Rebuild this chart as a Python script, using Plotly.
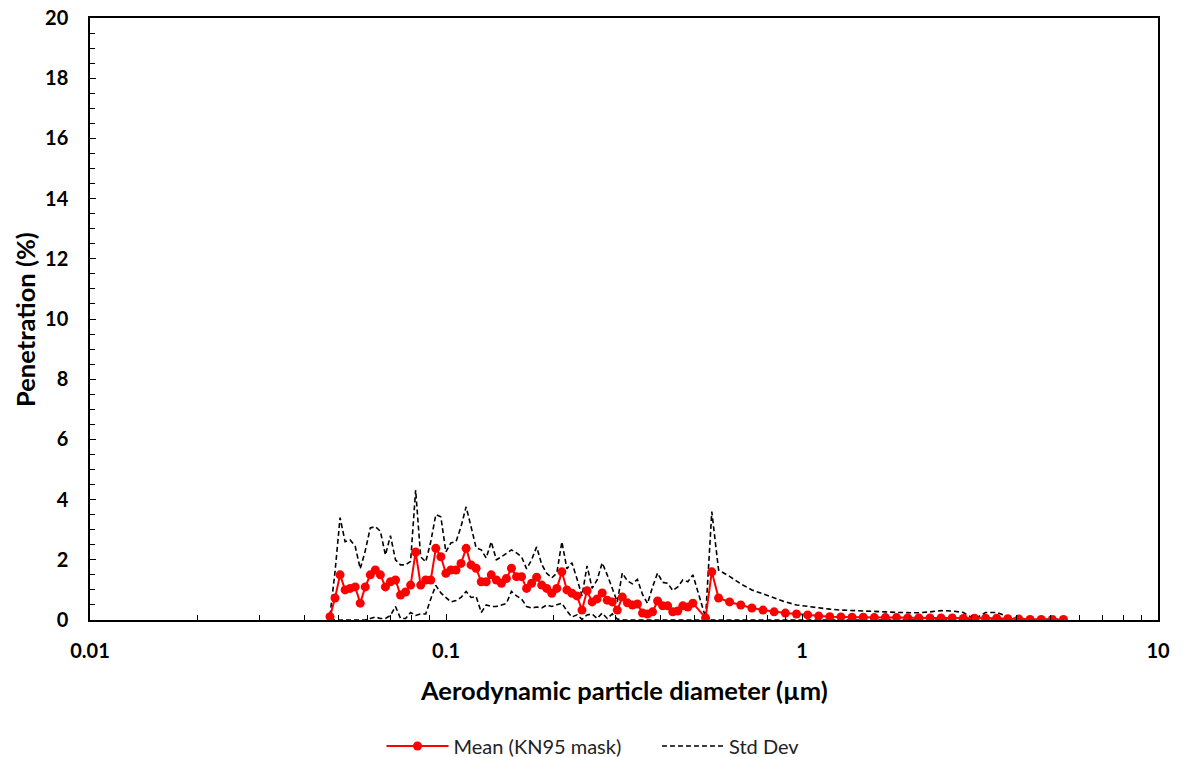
import plotly.graph_objects as go

# Aerodynamic particle diameter (um)
diam = [0.04722, 0.04878, 0.05040, 0.05207, 0.05379, 0.05558, 0.05742, 0.05932, 0.06128, 0.06331,
        0.06541, 0.06758, 0.06982, 0.07213, 0.07452, 0.07699, 0.07954, 0.08217, 0.08489, 0.08771,
        0.09061, 0.09363, 0.09673, 0.09993, 0.1032, 0.1067, 0.1102, 0.1139, 0.1176, 0.1215,
        0.1256, 0.1297, 0.1340, 0.1385, 0.1431, 0.1478, 0.1527, 0.1578, 0.1630, 0.1684,
        0.1740, 0.1797, 0.1857, 0.1918, 0.1982, 0.2048, 0.2116, 0.2186, 0.2258, 0.2333,
        0.2410, 0.2490, 0.2573, 0.2658, 0.2746, 0.2837, 0.2931, 0.3028, 0.3128, 0.3232,
        0.3339, 0.3449, 0.3564, 0.3682, 0.3804, 0.3930, 0.4060, 0.4194, 0.4333, 0.4477,
        0.4625, 0.4778, 0.4937, 0.536,
        0.558, 0.583, 0.626, 0.673, 0.723, 0.777, 0.835, 0.898, 0.965, 1.037,
        1.114, 1.197, 1.286, 1.382, 1.486, 1.596, 1.715, 1.843, 1.981, 2.129,
        2.288, 2.458, 2.642, 2.839, 3.051, 3.278, 3.523, 3.786, 4.068, 4.371,
        4.698, 5.048, 5.425]

# Mean penetration (%)
mean_pen = [0.11, 0.73, 1.5, 1.0, 1.05, 1.1, 0.56, 1.1, 1.5, 1.66,
            1.5, 1.1, 1.27, 1.33, 0.83, 0.93, 1.16, 2.26, 1.16, 1.33,
            1.33, 2.38, 2.1, 1.55, 1.66, 1.66, 1.88, 2.38, 1.83, 1.72,
            1.27, 1.27, 1.5, 1.33, 1.22, 1.38, 1.72, 1.44, 1.44, 1.05,
            1.22, 1.42, 1.16, 1.05, 0.89, 1.05, 1.6, 1.0, 0.89, 0.8,
            0.33, 0.97, 0.6, 0.7, 0.9, 0.66, 0.6, 0.33, 0.76, 0.57,
            0.5, 0.53, 0.23, 0.2, 0.27, 0.63, 0.47, 0.47, 0.27, 0.3,
            0.47, 0.43, 0.56, 0.07,
            1.6, 0.73, 0.6, 0.5, 0.4, 0.33, 0.27, 0.23, 0.2, 0.17,
            0.13, 0.11, 0.1, 0.09, 0.09, 0.08, 0.08, 0.08, 0.07, 0.07,
            0.07, 0.07, 0.07, 0.05, 0.06, 0.06, 0.06, 0.04, 0.03, 0.02,
            0.02, 0.02, 0.02]

# Mean + Std Dev (%)
upper_sd = [0.15, 1.6, 3.4, 2.6, 2.66, 2.45, 1.7, 2.3, 3.06, 3.1,
            2.95, 2.16, 2.8, 2.0, 1.83, 1.83, 1.95, 4.32, 2.1, 1.93,
            2.6, 3.5, 3.43, 2.26, 2.56, 2.6, 3.1, 3.76, 3.1, 2.4,
            2.33, 2.06, 2.6, 2.0, 2.1, 2.23, 2.33, 2.23, 2.1, 1.7,
            2.0, 2.43, 1.85, 1.55, 1.4, 1.56, 2.6, 1.7, 1.9, 1.37,
            0.8, 1.8, 1.05, 1.33, 1.9, 1.5, 1.05, 0.6, 1.56, 1.3,
            1.2, 1.35, 0.85, 0.55, 1.1, 1.56, 1.25, 1.22, 0.98, 1.1,
            1.33, 1.27, 1.5, 0.08,
            3.6, 1.66, 1.45, 1.2, 1.0, 0.87, 0.73, 0.6, 0.5, 0.45,
            0.4, 0.36, 0.33, 0.32, 0.3, 0.3, 0.27, 0.25, 0.24, 0.24,
            0.27, 0.31, 0.3, 0.25, 0.03, 0.25, 0.25, 0.12, 0.02, 0.02,
            0.02, 0.02, 0.02]

# Mean - Std Dev (%), clipped at the axis
lower_sd = [0, 0, 0, 0, 0, 0, 0, 0, 0.05, 0.1,
            0.05, 0.05, 0.15, 0.45, 0.05, 0.05, 0.25, 0.15, 0.2, 0.2,
            0.7, 1.15, 0.9, 0.75, 0.6, 0.65, 0.75, 0.95, 0.75, 0.78,
            0.25, 0.5, 0.45, 0.45, 0.5, 0.55, 0.95, 0.8, 0.7, 0.45,
            0.4, 0.43, 0.4, 0.5, 0.45, 0.5, 0.56, 0.3, 0.1, 0.17,
            0.02, 0.17, 0.2, 0.05, 0.23, 0.05, 0.2, 0.03, 0, 0,
            0, 0, 0, 0, 0, 0, 0, 0, 0, 0,
            0, 0, 0, 0,
            0, 0, 0, 0, 0, 0, 0, 0, 0, 0,
            0, 0, 0, 0, 0, 0, 0, 0, 0, 0,
            0, 0, 0, 0, 0, 0, 0, 0, 0, 0,
            0, 0, 0]

x_tickvals = [0.01, 0.1, 1, 10]
x_ticktext = ["0.01", "0.1", "1", "10"]
x_minor = [0.02, 0.03, 0.04, 0.05, 0.06, 0.07, 0.08, 0.09,
           0.2, 0.3, 0.4, 0.5, 0.6, 0.7, 0.8, 0.9,
           2, 3, 4, 5, 6, 7, 8, 9]

FONT = "Lato"
GAP = "\u00a0" * 6  # extra spacing between legend entries

fig = go.Figure()
sd_line = dict(color="black", width=1.6, dash="5px,3px")
fig.add_trace(go.Scatter(x=diam, y=upper_sd, mode="lines", line=sd_line,
                         name="Std Dev", legendrank=2))
fig.add_trace(go.Scatter(x=diam, y=lower_sd, mode="lines", line=sd_line,
                         name="Std Dev", showlegend=False))
fig.add_trace(go.Scatter(x=diam, y=mean_pen, mode="lines+markers",
                         line=dict(color="#ff0000", width=2),
                         marker=dict(size=9, color="#ff0000"),
                         name="Mean (KN95 mask)" + GAP, legendrank=1))

fig.update_layout(
    width=1186, height=757,
    margin=dict(l=90, r=28, t=18, b=137, autoexpand=False),
    plot_bgcolor="white", paper_bgcolor="white",
    font=dict(family=FONT, color="black"),
    showlegend=True,
    legend=dict(orientation="h", x=0.5, xanchor="center", xref="container",
                y=0.01453, yanchor="middle", yref="container",
                font=dict(family=FONT, size=20, color="#222222"), itemwidth=62,
                traceorder="normal"),
    xaxis=dict(type="log", range=[-2, 1], tickvals=x_tickvals, ticktext=x_ticktext,
               ticks="inside", ticklen=6, tickwidth=1.3, tickcolor="black",
               showline=True, linecolor="black", linewidth=1.5, mirror=True,
               showgrid=False, zeroline=False, ticklabelstandoff=12, automargin=False,
               ticklabeloverflow="allow",
               tickfont=dict(family=FONT, size=20, weight="bold", color="black"),
               minor=dict(tickvals=x_minor, ticks="inside", ticklen=5, tickwidth=1.2,
                          tickcolor="black", showgrid=False)),
    yaxis=dict(range=[0, 20], dtick=2, tick0=0,
               ticks="inside", ticklen=6, tickwidth=1.3, tickcolor="black",
               showline=True, linecolor="black", linewidth=1.5, mirror=True,
               showgrid=False, zeroline=False, ticklabelstandoff=16, automargin=False,
               ticklabeloverflow="allow",
               tickfont=dict(family=FONT, size=20, weight="bold", color="black"),
               minor=dict(dtick=0.5, ticks="inside", ticklen=5, tickwidth=1.2,
                          tickcolor="black", showgrid=False)),
    annotations=[
        dict(text="Aerodynamic particle diameter (µm)", xref="paper", yref="paper",
             x=0.5, y=-0.1163, xanchor="center", yanchor="middle", showarrow=False,
             font=dict(family=FONT, size=25.5, weight="bold", color="black")),
        dict(text="Penetration (%)", xref="paper", yref="paper", textangle=-90,
             x=-0.0609, y=0.5, xanchor="center", yanchor="middle", showarrow=False,
             font=dict(family=FONT, size=25.5, weight="bold", color="black")),
    ],
)

# remove the browser's default body margin so the figure fills the window exactly
fig.write_html("out.html", config={"displayModeBar": False},
               post_script="document.body.style.margin='0';document.body.style.overflow='hidden';")
